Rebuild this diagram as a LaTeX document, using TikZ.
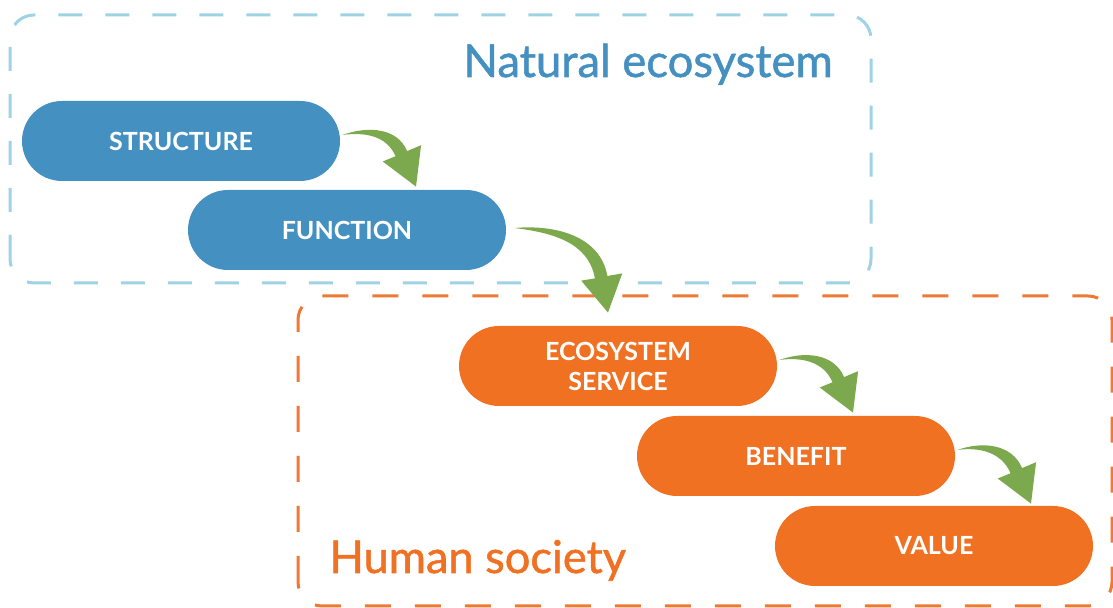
\documentclass[tikz,border=0pt]{standalone}
\usepackage{fontspec}
\setmainfont{Lato}
\newfontfamily\titlefont[FakeBold=1.2]{Lato}
\usetikzlibrary{calc}

\definecolor{natblue}{HTML}{4490C0}
\definecolor{natline}{HTML}{9ED2E4}
\definecolor{humorange}{HTML}{F17123}
\definecolor{humline}{HTML}{F07832}
\definecolor{flowgreen}{HTML}{7CA84E}

\tikzset{
  stage/.style={rounded corners=20pt, minimum width=159pt, minimum height=40pt,
    inner sep=0pt, align=center, text=white,
    font=\bfseries\fontsize{12.5}{15}\selectfont},
  natstage/.style={stage, fill=natblue},
  humstage/.style={stage, fill=humorange},
  natbox/.style={draw=natline, line width=1.5pt, rounded corners=12pt,
    dash pattern=on 12pt off 11.5pt},
  humbox/.style={draw=humline, line width=1.5pt, rounded corners=12pt,
    dash pattern=on 13pt off 12pt},
  title/.style={anchor=base west, inner sep=0pt,
    font=\titlefont\fontsize{22.7}{26}\selectfont},
}

% tapered green arrow: from, tip, back angle at tip, start angle
\newcommand{\flowarrow}[4]{%
  \pgfmathsetmacro{\flowin}{#4-12}
  \fill[flowgreen] (#1) to[out=#4,in=#3] ($(#2)+(#3-9:36.6)$)
    -- ($(#2)+(#3-30:41.7)$) -- (#2) -- ($(#2)+(#3+30:41.7)$)
    -- ($(#2)+(#3+11:36.6)$) to[out=#3,in=\flowin] (#1) -- cycle;}

\begin{document}
\begin{tikzpicture}[x=0.5pt,y=0.5pt]
    \useasboundingbox (0,0) rectangle (1113,608);

    \draw[natbox] (10,325) rectangle (871,593);
    \draw[humbox] (298,2) rectangle (1112,312);

    \node[title, text=natblue] at (463,531) (NatEco) {Natural ecosystem};
    \node[title, text=humorange, font=\titlefont\fontsize{22.6}{26}\selectfont]
      at (329,35) (HumSoc) {Human society};

    \node[natstage] at (181,467) (STR) {STRUCTURE};
    \node[natstage] at (347,378) (FUN) {FUNCTION};
    \node[humstage] at (618,242) (ECO) {ECOSYSTEM\\SERVICE};
    \node[humstage] at (796,152) (BEN) {BENEFIT};
    \node[humstage] at (934,62)  (VAL) {VALUE};

    \coordinate (FUNtip) at ([xshift=34.5pt,yshift=1.5pt]FUN.north);
    \coordinate (ECOtip) at ([xshift=-5pt,yshift=6.5pt]ECO.north);
    \coordinate (BENtip) at ([xshift=28.5pt,yshift=1.5pt]BEN.north);
    \coordinate (VALtip) at ([xshift=48.5pt,yshift=1pt]VAL.north);

    \flowarrow{[xshift=1pt,yshift=3pt]STR.east}{FUNtip}{113}{20}
    \flowarrow{[xshift=4pt,yshift=1pt]FUN.east}{ECOtip}{100}{5}
    \flowarrow{[xshift=1pt,yshift=3pt]ECO.east}{BENtip}{113}{20}
    \flowarrow{[xshift=1pt,yshift=3pt]BEN.east}{VALtip}{113}{20}
\end{tikzpicture}
\end{document}
